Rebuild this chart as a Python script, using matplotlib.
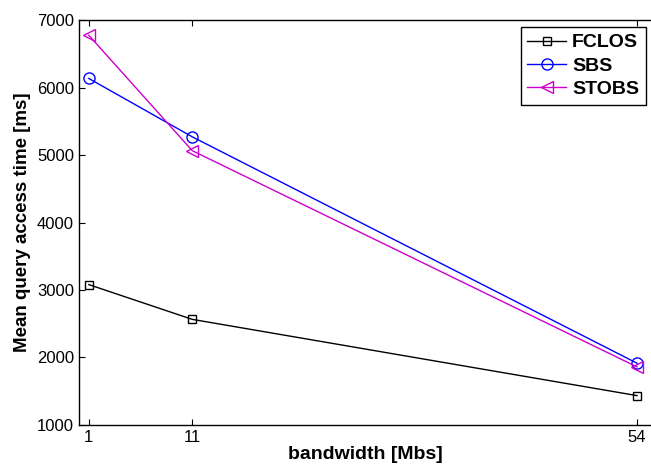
import matplotlib

matplotlib.use("Agg")
import matplotlib.pyplot as plt

plt.rcParams["font.family"] = ["Liberation Sans", "DejaVu Sans"]

# === Data ===
bandwidth = [1, 11, 54]
fclos = [3080, 2565, 1435]
sbs = [6135, 5270, 1915]
stobs = [6775, 5065, 1860]

fig = plt.figure(figsize=(6.51, 4.67), dpi=100)
# right edge of the axes runs off the picture, like the original
ax = fig.add_axes([0.121, 0.09, 0.879, 0.867])

ax.plot(bandwidth, fclos, color="black", marker="s", markersize=6,
        markerfacecolor="none", linewidth=1, label="FCLOS")
ax.plot(bandwidth, sbs, color="blue", marker="o", markersize=8,
        markerfacecolor="none", linewidth=1, label="SBS")
ax.plot(bandwidth, stobs, color="#cc00cc", marker="<", markersize=9,
        markerfacecolor="none", linewidth=1, label="STOBS")

ax.set_xlim(0.03, 55.35)
ax.set_ylim(1000, 7000)
ax.set_xticks(bandwidth)
ax.set_yticks(range(1000, 7001, 1000))
ax.tick_params(direction="in", top=True, right=False, labelsize=12, length=4)
ax.spines["right"].set_visible(False)
for s in ax.spines.values():
    s.set_linewidth(1)

ax.set_xlabel("bandwidth [Mbs]", fontsize=14, fontweight="bold", labelpad=1)
ax.set_ylabel("Mean query access time [ms]", fontsize=13.5, fontweight="bold",
              labelpad=4)

leg = ax.legend(loc="upper right", prop={"weight": "bold", "size": 14},
                fancybox=False, edgecolor="black", framealpha=1,
                handlelength=2.0, handletextpad=0.3, borderpad=0.35,
                labelspacing=0.3, borderaxespad=0,
                bbox_to_anchor=(0.991, 0.983))
leg.get_frame().set_linewidth(1)

fig.savefig("out.png", dpi=100)
